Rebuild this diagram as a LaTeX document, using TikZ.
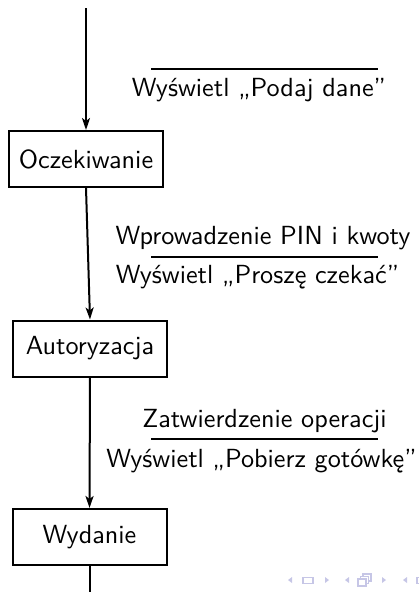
\documentclass[tikz,border=0pt]{standalone}
\usepackage{fontspec}
\usepackage{graphicx}
\usetikzlibrary{arrows.meta}
\definecolor{navcol}{RGB}{198,198,230}
\newcommand{\bigtxt}[1]{\scalebox{2.62}{\sffamily #1}}
\begin{document}
\begin{tikzpicture}[x=1pt,y=-1pt,
  state/.style={draw, line width=2pt, minimum width=154pt, minimum height=56pt, inner sep=0pt},
  lbl/.style={anchor=base, inner sep=0pt},
  flow/.style={line width=2pt, -{Stealth[length=12pt,width=8pt,inset=3pt]}},
  bar/.style={line width=2.4pt},
  navbox/.style={draw=navcol, line width=1.3pt}]
\useasboundingbox (0,0) rectangle (419,592);
% states
\coordinate (start) at (86,8);
\node[state] (s1) at (86,159) {\bigtxt{Oczekiwanie}};
\node[state] (s2) at (90,348.5) {\bigtxt{Autoryzacja}};
\node[state] (s3) at (89.5,537) {\bigtxt{Wydanie}};
\coordinate (end) at (89.5,600);
\draw[flow] (start) -- (s1.north);
\draw[flow] (s1.south) -- (s2.north);
\draw[flow] (s2.south) -- (s3.north);
\draw[line width=2pt] (s3.south) -- (end);
% transition labels
\node[lbl] (a1) at (259,96) {\bigtxt{Wyświetl „Podaj dane”}};
\coordinate (r1a) at (151,69); \coordinate (r1b) at (378,69);
\draw[bar] (r1a) -- (r1b);
\node[lbl] (e2) at (263,244) {\bigtxt{Wprowadzenie PIN i kwoty}};
\coordinate (r2a) at (151,257); \coordinate (r2b) at (378,257);
\draw[bar] (r2a) -- (r2b);
\node[lbl] (a2) at (257.5,283) {\bigtxt{Wyświetl „Proszę czekać”}};
\node[lbl] (e3) at (264.5,427) {\bigtxt{Zatwierdzenie operacji}};
\coordinate (r3a) at (151,439); \coordinate (r3b) at (378,439);
\draw[bar] (r3a) -- (r3b);
\node[lbl] (a3) at (261.5,467) {\bigtxt{Wyświetl „Pobierz gotówkę”}};
% navigation symbols
\fill[navcol] (292,577) -- (288,580) -- (292,583) -- cycle;
\draw[navbox] (303,577.5) rectangle (313,583.5);
\fill[navcol] (325,577) -- (329,580) -- (325,583) -- cycle;
\fill[navcol] (349,577) -- (345,580) -- (349,583) -- cycle;
\draw[navbox] (363,574) rectangle (371,581);
\draw[navbox, fill=white] (360.5,576.5) rectangle (368.5,583.5);
\draw[navbox, fill=white] (358,579) rectangle (366,586);
\fill[navcol] (382,577) -- (386,580) -- (382,583) -- cycle;
\fill[navcol] (407,577) -- (403,580) -- (407,583) -- cycle;
\draw[navbox] (417,577.5) rectangle (425,583.5);
\end{tikzpicture}
\end{document}
